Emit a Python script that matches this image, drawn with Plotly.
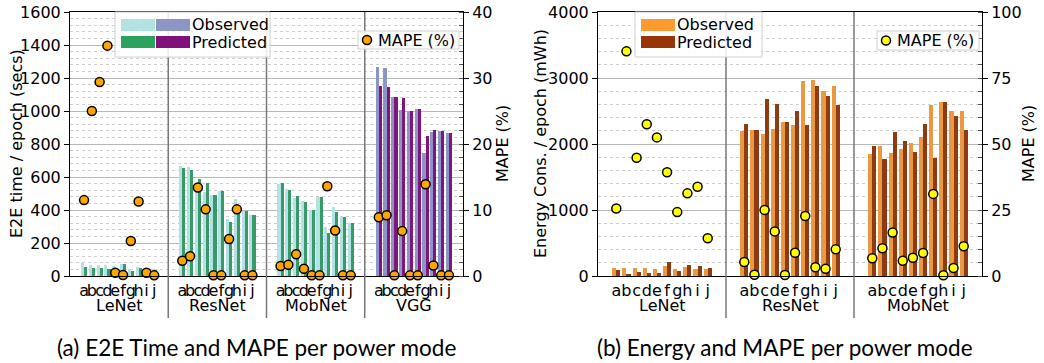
import plotly.graph_objects as go

# ---------------- data ----------------
modes = ["a", "b", "c", "d", "e", "f", "g", "h", "i", "j"]
time_models = ["LeNet", "ResNet", "MobNet", "VGG"]
energy_models = ["LeNet", "ResNet", "MobNet"]

# E2E time per epoch (secs)
lenet_time_obs = [81, 69, 69, 65, 62, 73, 44, 53, 45, 40]
lenet_time_pred = [57, 48, 48, 44, 42, 73, 32, 48, 38, 36]
lenet_time_mape = [11.5, 25.0, 29.4, 34.9, 0.5, 0.15, 5.3, 11.3, 0.5, 0.1]

resnet_time_obs = [668, 660, 518, 512, 491, 515, 345, 466, 394, 370]
resnet_time_pred = [656, 644, 588, 564, 491, 515, 329, 400, 394, 370]
resnet_time_mape = [2.3, 3.0, 13.4, 10.1, 0.1, 0.1, 5.6, 10.1, 0.1, 0.1]

mobnet_time_obs = [556, 527, 475, 454, 401, 480, 298, 419, 360, 322]
mobnet_time_pred = [564, 520, 485, 448, 400, 480, 261, 388, 359, 321]
mobnet_time_mape = [1.5, 1.7, 3.3, 1.1, 0.1, 0.1, 13.6, 6.9, 0.1, 0.1]

vgg_time_obs = [1265, 1259, 1083, 1005, 999, 1013, 745, 872, 878, 866]
vgg_time_pred = [1150, 1144, 1083, 1077, 999, 1013, 847, 884, 878, 866]
vgg_time_mape = [8.9, 9.2, 0.1, 6.8, 0.1, 0.1, 13.9, 1.6, 0.1, 0.1]

# Energy per epoch (mWh)
lenet_energy_obs = [121, 121, 121, 121, 106, 152, 106, 136, 106, 106]
lenet_energy_pred = [91, 20, 61, 45, 45, 212, 76, 167, 152, 121]
lenet_energy_mape = [25.6, 85.1, 44.8, 57.5, 52.5, 39.3, 24.2, 31.3, 33.8, 14.3]

resnet_energy_obs = [2197, 2212, 2151, 2227, 2333, 2288, 2954, 2970, 2803, 2879]
resnet_energy_pred = [2303, 2212, 2682, 2606, 2333, 2500, 2288, 2879, 2727, 2591]
resnet_energy_mape = [5.3, 0.5, 25.0, 16.9, 0.4, 8.8, 22.7, 3.3, 2.7, 10.1]

mobnet_energy_obs = [1846, 1967, 1861, 1922, 2013, 2104, 2588, 2633, 2497, 2497]
mobnet_energy_pred = [1967, 1771, 2179, 2043, 1876, 2300, 1786, 2633, 2421, 2209]
mobnet_energy_mape = [6.7, 10.5, 16.5, 5.8, 6.9, 8.7, 31.1, 0.3, 3.0, 11.3]

time_ticks = [0, 200, 400, 600, 800, 1000, 1200, 1400, 1600]
time_mape_ticks = [0, 10, 20, 30, 40]
energy_ticks = [0, 1000, 2000, 3000, 4000]
energy_mape_ticks = [0, 25, 50, 75, 100]

# ---------------- styling / layout constants ----------------
W, H = 1044, 363
TOP, BOTTOM = 12, 276
LEFT_DOM = (70, 463)
RIGHT_DOM = (598, 982)
GROUP_W = 12.6
PAD = 1.8
BAR_W = 0.4

FONT = "DejaVu Sans"
CAP_FONT = "Lato"

time_colors = [("#b2e2e2", "#379a69"), ("#b2e2e2", "#379a69"),
               ("#b2e2e2", "#379a69"), ("#8c96c6", "#83137e")]
energy_colors = ("#eb9840", "#8e3a12")
legend_time_obs = ["#b2e2e2", "#8c96c6"]
legend_time_pred = ["#2ca25f", "#810f7c"]
legend_energy = ("#fd9a30", "#993404")


def px(xp):
    return xp / W


def py(yp):
    return (BOTTOM - yp) / (BOTTOM - TOP)


def positions(g):
    return [g * GROUP_W + PAD + k for k in range(len(modes))]


fig = go.Figure()

time_series = [
    (lenet_time_obs, lenet_time_pred),
    (resnet_time_obs, resnet_time_pred),
    (mobnet_time_obs, mobnet_time_pred),
    (vgg_time_obs, vgg_time_pred),
]
time_mapes = [lenet_time_mape, resnet_time_mape, mobnet_time_mape, vgg_time_mape]
energy_series = [
    (lenet_energy_obs, lenet_energy_pred),
    (resnet_energy_obs, resnet_energy_pred),
    (mobnet_energy_obs, mobnet_energy_pred),
]
energy_mapes = [lenet_energy_mape, resnet_energy_mape, mobnet_energy_mape]

for g, (obs, pred) in enumerate(time_series):
    xs = positions(g)
    fig.add_trace(go.Bar(x=xs, y=obs, width=BAR_W, offset=-BAR_W,
                         marker=dict(color=time_colors[g][0], line=dict(width=0)),
                         xaxis="x", yaxis="y", showlegend=False))
    fig.add_trace(go.Bar(x=xs, y=pred, width=BAR_W, offset=0,
                         marker=dict(color=time_colors[g][1], line=dict(width=0)),
                         xaxis="x", yaxis="y", showlegend=False))

all_time_x = [x for g in range(len(time_models)) for x in positions(g)]
all_time_mape = [v for m in time_mapes for v in m]
fig.add_trace(go.Scatter(x=all_time_x, y=all_time_mape, mode="markers",
                         marker=dict(color="#ffa500", size=9, line=dict(color="black", width=1.5)),
                         xaxis="x", yaxis="y2", showlegend=False, cliponaxis=False))

for g, (obs, pred) in enumerate(energy_series):
    xs = positions(g)
    fig.add_trace(go.Bar(x=xs, y=obs, width=BAR_W, offset=-BAR_W,
                         marker=dict(color=energy_colors[0], line=dict(width=0)),
                         xaxis="x2", yaxis="y3", showlegend=False))
    fig.add_trace(go.Bar(x=xs, y=pred, width=BAR_W, offset=0,
                         marker=dict(color=energy_colors[1], line=dict(width=0)),
                         xaxis="x2", yaxis="y3", showlegend=False))

all_energy_x = [x for g in range(len(energy_models)) for x in positions(g)]
all_energy_mape = [v for m in energy_mapes for v in m]
fig.add_trace(go.Scatter(x=all_energy_x, y=all_energy_mape, mode="markers",
                         marker=dict(color="#ffff00", size=9, line=dict(color="black", width=1.5)),
                         xaxis="x2", yaxis="y4", showlegend=False, cliponaxis=False))

tickfont = dict(family=FONT, size=16, color="black")


def xaxis_cfg(dom, n_groups):
    tv = [x for g in range(n_groups) for x in positions(g)]
    return dict(domain=[px(dom[0]), px(dom[1])], range=[0, n_groups * GROUP_W],
                tickvals=tv, ticktext=modes * n_groups, ticks="", tickangle=0,
                tickfont=tickfont, showline=True, linecolor="black", linewidth=1,
                mirror=True, showgrid=False, zeroline=False, fixedrange=True)


def yaxis_cfg(anchor, rng, tv, minor_dtick):
    return dict(anchor=anchor, range=rng, tickvals=tv, ticks="outside", ticklen=5,
                tickwidth=1, tickcolor="black", tickfont=tickfont, showline=True,
                linecolor="black", linewidth=1, showgrid=True, gridcolor="#b8b8b8",
                gridwidth=1, zeroline=False,
                minor=dict(dtick=minor_dtick, showgrid=True, griddash="dot",
                           gridcolor="#cfcfcf", gridwidth=1, ticks=""))


def y2axis_cfg(anchor, overlay, rng, tv, minor_dtick):
    return dict(anchor=anchor, overlaying=overlay, side="right", range=rng, tickvals=tv,
                ticks="outside", ticklen=5, tickwidth=1, tickcolor="black",
                tickfont=tickfont, showline=True, linecolor="black", linewidth=1,
                showgrid=False, zeroline=False,
                minor=dict(dtick=minor_dtick, ticks="inside", ticklen=4,
                           tickcolor="#555", showgrid=False))


shapes = []
annotations = []

# group separators + group labels
for dom, models in ((LEFT_DOM, time_models), (RIGHT_DOM, energy_models)):
    n = len(models)
    unit = (dom[1] - dom[0]) / (n * GROUP_W)
    for g in range(1, n):
        xp = dom[0] + g * GROUP_W * unit
        shapes.append(dict(type="line", xref="paper", yref="paper",
                           x0=px(xp), x1=px(xp), y0=py(318), y1=py(TOP),
                           line=dict(color="#777777", width=1.5), layer="above"))
    for g, name in enumerate(models):
        xc = dom[0] + (g + 0.5) * GROUP_W * unit
        annotations.append(dict(text=name, xref="paper", yref="paper", x=px(xc), y=py(305),
                                xanchor="center", yanchor="middle", showarrow=False,
                                font=dict(family=FONT, size=16, color="black")))


def legend_box(x0, y0, x1, y1):
    shapes.append(dict(type="rect", xref="paper", yref="paper",
                       x0=px(x0), x1=px(x1), y0=py(y1), y1=py(y0),
                       line=dict(color="#d0d0d0", width=1),
                       fillcolor="rgba(255,255,255,0.85)", layer="above"))


def patch(x0, y0, x1, y1, color):
    shapes.append(dict(type="rect", xref="paper", yref="paper",
                       x0=px(x0), x1=px(x1), y0=py(y1), y1=py(y0),
                       line=dict(width=0), fillcolor=color, layer="above"))


def dot(cx, cy, color, r=4.5):
    shapes.append(dict(type="circle", xref="paper", yref="paper",
                       x0=px(cx - r), x1=px(cx + r), y0=py(cy + r), y1=py(cy - r),
                       line=dict(color="black", width=1.5), fillcolor=color, layer="above"))


def legend_text(txt, xl, yc):
    annotations.append(dict(text=txt, xref="paper", yref="paper", x=px(xl), y=py(yc),
                            xanchor="left", yanchor="middle", showarrow=False,
                            font=dict(family=FONT, size=16, color="black")))


# left legends
legend_box(115, 12, 270, 57)
patch(121, 19, 155, 31, legend_time_obs[0])
patch(156, 19, 190, 31, legend_time_obs[1])
patch(121, 36, 155, 48, legend_time_pred[0])
patch(156, 36, 190, 48, legend_time_pred[1])
legend_text("Observed", 190, 25)
legend_text("Predicted", 190, 42)
legend_box(358, 31, 459, 49)
dot(367, 40, "#ffa500")
legend_text("MAPE (%)", 376, 40)

# right legends
legend_box(635, 12, 762, 57)
patch(641, 19, 675, 31, legend_energy[0])
patch(641, 36, 675, 48, legend_energy[1])
legend_text("Observed", 675, 25)
legend_text("Predicted", 675, 42)
legend_box(877, 31, 979, 50)
dot(886, 40.5, "#ffff00")
legend_text("MAPE (%)", 895, 40.5)

# axis titles
for txt, xc in (("E2E time / epoch (secs)", 16), ("MAPE (%)", 502),
                ("Energy Cons. / epoch (mWh)", 540), ("MAPE (%)", 1028)):
    annotations.append(dict(text=txt, xref="paper", yref="paper", x=px(xc), y=0.5,
                            xanchor="center", yanchor="middle", textangle=-90,
                            showarrow=False, font=dict(family=FONT, size=16, color="black")))

# captions
annotations.append(dict(text="(a) E2E Time and MAPE per power mode", xref="paper", yref="paper",
                        x=px(256), y=py(347), xanchor="center", yanchor="middle",
                        showarrow=False, font=dict(family=CAP_FONT, size=22.5, color="black")))
annotations.append(dict(text="(b) Energy and MAPE per power mode", xref="paper", yref="paper",
                        x=px(785), y=py(347), xanchor="center", yanchor="middle",
                        showarrow=False, font=dict(family=CAP_FONT, size=22.5, color="black")))

fig.update_layout(
    width=W, height=H,
    margin=dict(l=0, r=0, t=TOP, b=H - BOTTOM, autoexpand=False),
    plot_bgcolor="white", paper_bgcolor="white",
    barmode="overlay", bargap=0,
    xaxis=xaxis_cfg(LEFT_DOM, len(time_models)),
    yaxis=yaxis_cfg("x", [0, 1600], time_ticks, 40),
    yaxis2=y2axis_cfg("x", "y", [0, 40], time_mape_ticks, 2),
    xaxis2=xaxis_cfg(RIGHT_DOM, len(energy_models)),
    yaxis3=yaxis_cfg("x2", [0, 4000], energy_ticks, 200),
    yaxis4=y2axis_cfg("x2", "y3", [0, 100], energy_mape_ticks, 5),
    shapes=shapes,
    annotations=annotations,
    showlegend=False,
)

fig.write_html("out.html", config={"displayModeBar": False},
               post_script="document.body.style.margin='0px';document.body.style.overflow='hidden';")
